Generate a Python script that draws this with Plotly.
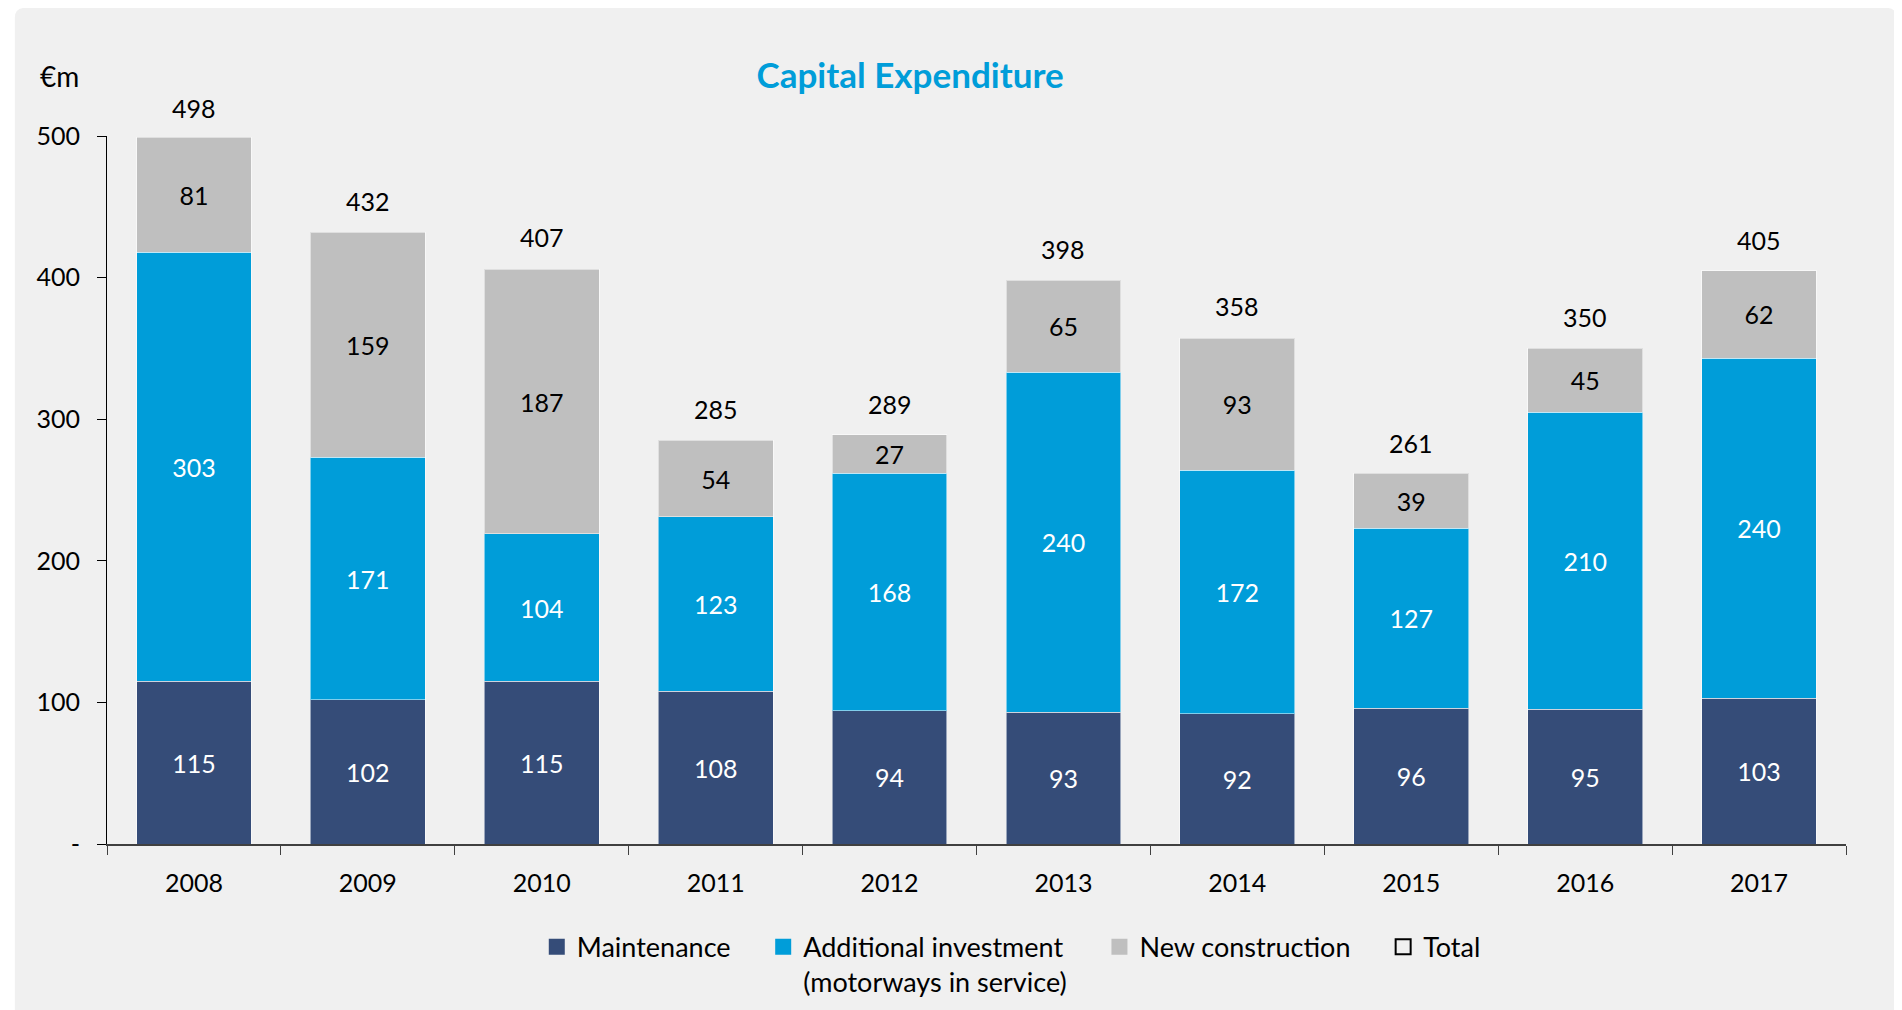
import plotly.graph_objects as go

# Capital expenditure, EUR m
years = ["2008", "2009", "2010", "2011", "2012", "2013", "2014", "2015", "2016", "2017"]
maintenance = [115, 102, 115, 108, 94, 93, 92, 96, 95, 103]
additional = [303, 171, 104, 123, 168, 240, 172, 127, 210, 240]
new_construction = [81, 159, 187, 54, 27, 65, 93, 39, 45, 62]
totals = [498, 432, 407, 285, 289, 398, 358, 261, 350, 405]

y_ticks = [0, 100, 200, 300, 400, 500]
y_labels = ["-", "100", "200", "300", "400", "500"]

FONT = "Lato"
NAVY = "#354c78"
BLUE = "#009dd9"
GREY = "#bfbfbf"
SP = "\u00a0" * 4  # extra room between legend entries

fig = go.Figure()

series = [
    ("Maintenance" + SP, maintenance, NAVY, "white"),
    ("Additional investment<br>(motorways in service)" + SP, additional, BLUE, "white"),
    ("New construction" + SP, new_construction, GREY, "black"),
]
for name, vals, col, txtcol in series:
    fig.add_bar(
        x=years, y=vals, name=name, showlegend=False,
        marker=dict(color=col, line=dict(color="rgba(255,255,255,0.5)", width=1)),
        text=vals, textposition="inside", insidetextanchor="middle",
        textfont=dict(color=txtcol, size=25, family=FONT),
        hoverinfo="skip",
    )
    # bigger square legend symbol than the bar default
    fig.add_scatter(
        x=[years[0]], y=[None], mode="markers", name=name,
        marker=dict(symbol="square", color=col, size=16),
    )

# legend entry for the totals (open square)
fig.add_scatter(
    x=[years[0]], y=[None], mode="markers", name="Total",
    marker=dict(symbol="square-open", color="black", size=15, line=dict(width=2)),
)

# total labels above the stacks (x given as category index)
for i, tot in enumerate(totals):
    fig.add_annotation(
        x=i, y=tot, text=str(tot), showarrow=False,
        yanchor="bottom", yshift=14,
        font=dict(size=25, color="black", family=FONT),
    )

# unit label
fig.add_annotation(
    xref="paper", yref="paper", x=-0.0276, y=1.0847, text="€m", showarrow=False,
    xanchor="center", yanchor="middle", font=dict(size=28, color="black", family=FONT),
)

# grey rounded panel behind everything
fig.add_shape(
    type="path", xref="paper", yref="paper", layer="below",
    path="M -0.047,1.181 L 1.023,1.181 Q 1.029,1.181 1.029,1.167 L 1.029,-0.2345 "
         "L -0.053,-0.2345 L -0.053,1.167 Q -0.053,1.181 -0.047,1.181 Z",
    fillcolor="#f0f0f0", line=dict(width=0),
)

fig.update_layout(
    width=1902, height=1010,
    barmode="stack", bargap=0.34,
    paper_bgcolor="white", plot_bgcolor="rgba(0,0,0,0)",
    margin=dict(l=99, r=64, t=128, b=174, autoexpand=False),
    font=dict(family=FONT, size=25, color="black"),
    title=dict(
        text="<b>Capital Expenditure</b>", xref="container", x=0.4743, xanchor="center",
        y=0.9327, yanchor="middle",
        font=dict(size=35, color=BLUE, family=FONT),
    ),
    uniformtext=dict(minsize=25, mode="show"),
    showlegend=True,
    legend=dict(
        orientation="h", x=0.52, xanchor="center", y=-0.111, yanchor="top",
        font=dict(size=27, color="black", family=FONT),
        valign="top", itemwidth=30, traceorder="normal",
        bgcolor="rgba(0,0,0,0)",
    ),
)

fig.update_xaxes(
    type="category", categoryorder="array", categoryarray=years,
    range=[-0.5, len(years) - 0.5],
    showline=True, linecolor="#404040", linewidth=1.5,
    ticks="outside", tickson="boundaries", ticklen=9, tickcolor="#404040",
    ticklabelstandoff=16,
    tickfont=dict(size=25, family=FONT), showgrid=False,
)
fig.update_yaxes(
    range=[0, 500], tickvals=y_ticks, ticktext=y_labels,
    showline=True, linecolor="black", linewidth=1,
    ticks="outside", ticklen=9, tickcolor="black",
    ticklabelstandoff=12,
    tickfont=dict(size=25, family=FONT), showgrid=False, zeroline=False,
)

fig.write_html("out.html")
